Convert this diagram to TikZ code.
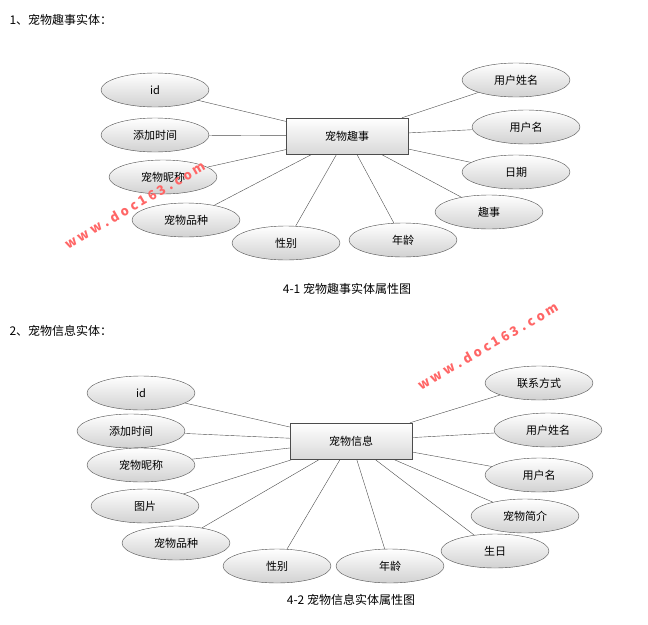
\documentclass[tikz,border=0pt]{standalone}
\usepackage{fontspec}
\setmainfont{Noto Sans CJK SC}
\begin{document}
\begin{tikzpicture}[x=1pt,y=-1pt,
  attr/.style={ellipse,draw=black!70,top color=white,bottom color=black!18,minimum width=108pt,minimum height=34pt,inner sep=0pt,font=\fontsize{11}{12}\selectfont},
  ent/.style={rectangle,draw=black!70,top color=white,bottom color=black!15,minimum width=122pt,minimum height=36pt,font=\fontsize{11}{12}\selectfont},
  ln/.style={draw=black!70},
  wm/.style={text=red!60,font=\fontsize{13}{14}\selectfont\bfseries,rotate=30}]
\useasboundingbox (0,0) rectangle (648,624);
\usetikzlibrary{shapes.geometric}
\node[anchor=west,font=\fontsize{12}{14}\selectfont] (t1) at (6,20) {1、宠物趣事实体：};
\node[ent] (r1) at (347,136) {宠物趣事};
\foreach \n/\x/\y/\t in {a1/155/90/id,a2/155/135/添加时间,a3/163/177/宠物昵称,a4/186/220/宠物品种,a5/286/243/性别,a6/403/240/年龄,a7/516/80/用户姓名,a8/526/127/用户名,a9/516/172/日期,a10/489/212/趣事}{
  \node[attr] (\n) at (\x,\y) {\t};
  \draw[ln] (\n) -- (r1);
}
\node[font=\fontsize{12}{14}\selectfont] (c1) at (347,289) {4-1 宠物趣事实体属性图};
\node[anchor=west,font=\fontsize{12}{14}\selectfont] (t2) at (6,331) {2、宠物信息实体：};
\node[ent] (r2) at (351,441) {宠物信息};
\foreach \n/\x/\y/\t in {b1/141/393/id,b2/131/431/添加时间,b3/141/465/宠物昵称,b4/145/506/图片,b5/176/543/宠物品种,b6/277/566/性别,b7/390/566/年龄,b8/539/383/联系方式,b9/548/430/用户姓名,b10/539/475/用户名,b11/525/516/宠物简介,b12/495/551/生日}{
  \node[attr] (\n) at (\x,\y) {\t};
  \draw[ln] (\n) -- (r2);
}
\node[font=\fontsize{12}{14}\selectfont] (c2) at (351,600) {4-2 宠物信息实体属性图};
\node[wm] (w1) at (135,205) {w w w . d o c 1 6 3 . c o m};
\node[wm] (w2) at (488,346) {w w w . d o c 1 6 3 . c o m};
\end{tikzpicture}
\end{document}
